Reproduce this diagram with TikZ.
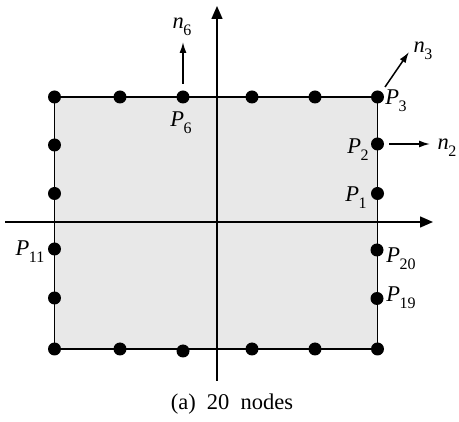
\documentclass[tikz,border=0pt]{standalone}
\usepackage{fontspec}
\setmainfont{Liberation Serif}
\usetikzlibrary{arrows.meta}
\newcommand{\Pl}[2]{\textit{#1}\kern-0.02em\raisebox{-0.32em}{\fontsize{16}{16}\selectfont #2}}
\tikzset{
  dot/.style={circle,fill=black,inner sep=0pt,minimum size=13pt},
  lbl/.style={inner sep=0pt,font=\fontsize{22.5}{22.5}\selectfont},
  axis/.style={line width=1.5pt,-{Triangle[length=13pt,width=11pt]}},
  vec/.style={line width=1.5pt,-{Latex[length=11pt,width=7pt]}},
  border/.style={line width=1.7pt}
}
\begin{document}
\begin{tikzpicture}[x=1pt,y=-1pt]
\useasboundingbox (0,0) rectangle (459,422);
% filled region
\fill[black!9] (54.5,97) rectangle (377.5,349);
% axes
\coordinate (xs) at (5,222);
\coordinate (xe) at (433,222);
\coordinate (ys) at (217,381);
\coordinate (ye) at (217,6);
\draw[axis] (xs) -- (xe);
\draw[axis] (ys) -- (ye);
% border
\draw[border] (54.5,97) rectangle (377.5,349);
% top dots
\node[dot] (t1) at (54.5,97) {};
\node[dot] (t2) at (120,97) {};
\node[dot] (t3) at (183,97) {};
\node[dot] (t4) at (252,97) {};
\node[dot] (t5) at (315,97) {};
\node[dot] (t6) at (377.5,97) {};
% bottom dots
\node[dot] (b1) at (54.5,349) {};
\node[dot] (b2) at (120,349) {};
\node[dot] (b3) at (183,351) {};
\node[dot] (b4) at (252,349) {};
\node[dot] (b5) at (315,349) {};
\node[dot] (b6) at (377.5,349) {};
% left dots
\node[dot] (l1) at (54.5,145) {};
\node[dot] (l2) at (54.5,193.5) {};
\node[dot] (l3) at (54.5,249) {};
\node[dot] (l4) at (54.5,298) {};
% right dots
\node[dot] (r1) at (377.5,144) {};
\node[dot] (r2) at (377.5,193.5) {};
\node[dot] (r3) at (377,250) {};
\node[dot] (r4) at (377,298.5) {};
% normals
\coordinate (n6s) at (183,84);
\coordinate (n6e) at (183,42);
\coordinate (n3s) at (385,87);
\coordinate (n3e) at (409,52);
\coordinate (n2s) at (389,144);
\coordinate (n2e) at (430,144);
\draw[vec] (n6s) -- (n6e);
\draw[vec] (n3s) -- (n3e);
\draw[vec] (n2s) -- (n2e);
% labels
\node[lbl] (ln6) at (182,27) {\Pl{n}{6}};
\node[lbl] (ln3) at (423,51) {\Pl{n}{3}};
\node[lbl] (ln2) at (447,148) {\Pl{n}{2}};
\node[lbl] (lp6) at (181,123) {\Pl{P}{6}};
\node[lbl] (lp3) at (396,101) {\Pl{P}{3}};
\node[lbl] (lp2) at (358,150) {\Pl{P}{2}};
\node[lbl] (lp1) at (356,198) {\Pl{P}{1}};
\node[lbl] (lp11) at (30,252) {\Pl{P}{11}};
\node[lbl] (lp20) at (401,259) {\Pl{P}{20}};
\node[lbl] (lp19) at (401,298) {\Pl{P}{19}};
\node[lbl] (cap) at (232,404) {(a)\hspace{0.5em}20\hspace{0.5em}nodes};
\end{tikzpicture}
\end{document}
